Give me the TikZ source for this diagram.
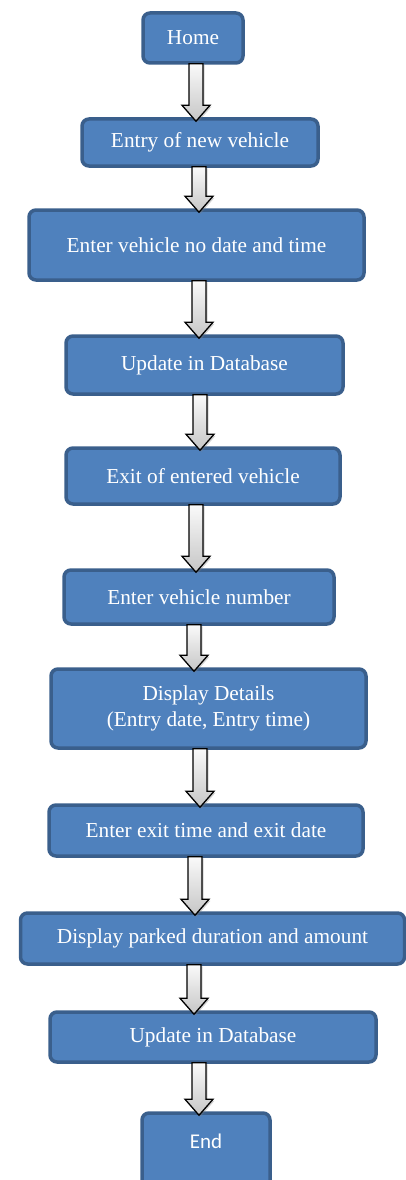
\documentclass[tikz,border=0pt]{standalone}
\usepackage{fontspec}
\setmainfont{Liberation Serif}
\newfontfamily\calib{Carlito}
\usetikzlibrary{calc,shadows}
\definecolor{boxfill}{HTML}{4F81BD}
\definecolor{boxborder}{HTML}{3A5F8C}
\tikzset{
  flowbox/.style={draw=boxborder, line width=3.5pt, fill=boxfill, rounded corners=7pt,
    text=white, font=\fontsize{21.3}{25.6}\selectfont, inner sep=0pt, align=center},
  blkarrow/.style={draw=black, line width=1.3pt, line join=miter, top color=gray!4, bottom color=gray!45,
    drop shadow={opacity=0.35, shadow xshift=1.5pt, shadow yshift=-1.5pt}}
}
\newcommand\blk[3]{%
  \draw[blkarrow] let \p1=(#2.south), \p2=(#3.north) in
   (#1pt-7pt,\y1+1pt) -- (#1pt+7pt,\y1+1pt) -- (#1pt+7pt,\y2+12pt) -- (#1pt+14pt,\y2+12pt)
   -- (#1pt,\y2-4pt) -- (#1pt-14pt,\y2+12pt) -- (#1pt-7pt,\y2+12pt) -- cycle;}
\begin{document}
\begin{tikzpicture}[x=1pt,y=-1pt]
\useasboundingbox (0,0) rectangle (406,1180);
\node[flowbox, minimum width=100pt, minimum height=50pt] (home) at (193,38) {Home};
\node[flowbox, minimum width=236pt, minimum height=47pt] (entry) at (200,142.5) {Entry of new vehicle};
\node[flowbox, minimum width=335pt, minimum height=70pt] (enterno) at (196.5,245) {Enter vehicle no date and time};
\node[flowbox, minimum width=277pt, minimum height=58pt] (upd1) at (204.5,365) {Update in Database};
\node[flowbox, minimum width=274pt, minimum height=56pt] (exit) at (203,476) {Exit of entered vehicle};
\node[flowbox, minimum width=270pt, minimum height=54pt] (vnum) at (199,597) {Enter vehicle number};
\node[flowbox, minimum width=315pt, minimum height=79pt] (details) at (208.5,708.5) {Display Details\\(Entry date, Entry time)};
\node[flowbox, minimum width=314pt, minimum height=51pt] (exittime) at (206,830.5) {Enter exit time and exit date};
\node[flowbox, minimum width=384pt, minimum height=51pt] (parked) at (212.5,938.5) {Display parked duration and amount};
\node[flowbox, minimum width=326pt, minimum height=50pt] (upd2) at (213,1037) {Update in Database};
\node[flowbox, font=\calib\fontsize{21}{25}\selectfont, minimum width=128pt, minimum height=76pt,
  text height=25pt, text depth=30pt] (end) at (206,1151) {End};
\blk{196}{home}{entry}
\blk{199}{entry}{enterno}
\blk{199}{enterno}{upd1}
\blk{200}{upd1}{exit}
\blk{196}{exit}{vnum}
\blk{194}{vnum}{details}
\blk{200}{details}{exittime}
\blk{195}{exittime}{parked}
\blk{194}{parked}{upd2}
\blk{199}{upd2}{end}
\end{tikzpicture}
\end{document}
